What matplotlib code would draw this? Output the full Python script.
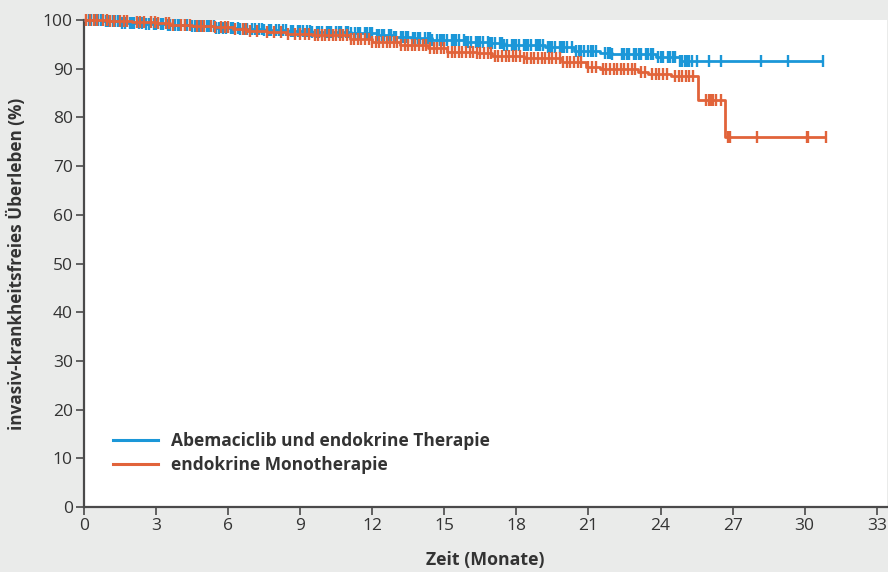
import numpy as np
import matplotlib
matplotlib.use("Agg")
import matplotlib.pyplot as plt
from matplotlib.lines import Line2D

plt.rcParams['font.family'] = ['Open Sans', 'DejaVu Sans']

# ---- data ----
series_names = ["Abemaciclib und endokrine Therapie", "endokrine Monotherapie"]

blue_step_months = [0, 0.8, 1.5, 2.5, 3.5, 4.5, 5.5, 6.5, 7.5, 8.5, 9.5, 11.1, 12.2, 12.9,
                    13.6, 14.5, 15.9, 16.9, 17.5, 19.2, 20.4, 21.5, 22.0, 23.8, 24.8]
blue_step_surv = [100, 99.7, 99.4, 99.2, 99.0, 98.7, 98.4, 98.1, 97.9, 97.7, 97.6, 97.3, 96.9, 96.6,
                  96.4, 95.9, 95.5, 95.2, 94.9, 94.5, 93.7, 93.2, 93.0, 92.5, 91.6]
blue_end_month = 30.75

orange_step_months = [0, 1.0, 2.0, 3.0, 3.6, 4.5, 5.4, 6.2, 6.8, 7.6, 8.4, 9.5, 11.07, 12.0,
                      13.15, 14.3, 15.1, 16.35, 17.0, 18.3, 19.9, 20.9, 21.5, 23.05, 23.5,
                      24.45, 25.55, 26.7]
orange_step_surv = [100, 99.8, 99.6, 99.3, 99.0, 98.8, 98.5, 98.2, 97.8, 97.5, 97.1, 96.9, 96.2, 95.5,
                    94.9, 94.2, 93.5, 93.2, 92.6, 92.1, 91.4, 90.4, 89.9, 89.4, 88.9,
                    88.5, 83.6, 76.0]
orange_end_month = 30.9

blue_censor_months = [
    0.2, 0.3, 0.5, 0.6, 0.7, 0.9, 1.0, 1.2, 1.3, 1.4, 1.6, 1.7, 1.9, 2.0, 2.1, 2.3, 2.4, 2.6,
    2.7, 2.9, 3.0, 3.2, 3.3, 3.5, 3.6, 3.8, 3.9, 4.0, 4.2, 4.3, 4.5, 4.6, 4.8, 4.9, 5.1, 5.2,
    5.4, 5.5, 5.6, 5.8, 5.9, 6.1, 6.2, 6.4, 6.5, 6.7, 6.8, 7.0, 7.1, 7.3, 7.4, 7.5, 7.7, 7.8,
    8.0, 8.1, 8.3, 8.4, 8.6, 8.7, 8.9, 9.0, 9.1, 9.3, 9.4, 9.5, 9.7, 9.8, 9.9, 10.1, 10.2,
    10.3, 10.5, 10.6, 10.7, 10.9, 11.0, 11.1, 11.3, 11.4, 11.5, 11.7, 11.8, 11.9, 12.0, 12.2,
    12.3, 12.4, 12.5, 12.7, 12.8, 12.9, 13.0, 13.2, 13.3, 13.4, 13.5, 13.7, 13.8, 13.9, 14.0,
    14.2, 14.3, 14.4, 14.5, 14.7, 14.8, 14.9, 15.0, 15.1, 15.3, 15.4, 15.5, 15.6, 15.8, 15.9,
    16.0, 16.1, 16.3, 16.4, 16.5, 16.6, 16.8, 16.9, 17.0, 17.1, 17.3, 17.4, 17.5, 17.6, 17.8,
    17.9, 18.0, 18.1, 18.3, 18.4, 18.5, 18.6, 18.8, 18.9, 19.0, 19.1, 19.3, 19.4, 19.5, 19.6,
    19.8, 19.9, 20.0, 20.1, 20.3, 20.5, 20.6, 20.7, 20.8, 21.0, 21.1, 21.2, 21.3, 21.7, 21.8,
    21.9, 22.0, 22.4, 22.5, 22.6, 22.7, 22.9, 23.0, 23.1, 23.2, 23.4, 23.5, 23.6, 23.7, 23.9,
    24.0, 24.1, 24.3, 24.4, 24.5, 24.6, 24.8, 24.9, 25.0, 25.1, 25.2, 25.3, 25.5, 26.0, 26.5,
    28.2, 29.3, 30.75]

orange_censor_months = [
    0.1, 0.25, 0.4, 0.55, 0.8, 0.95, 1.1, 1.25, 1.5, 1.65, 1.8, 2.2, 2.35, 2.5, 2.8, 2.95,
    3.1, 3.4, 3.55, 3.7, 4.05, 4.2, 4.4, 4.7, 4.85, 5.0, 5.3, 5.45, 5.7, 5.85, 6.0, 6.3, 6.6,
    6.75, 6.9, 7.2, 7.6, 7.9, 8.2, 8.5, 8.8, 9.0, 9.2, 9.35, 9.6, 9.75, 9.9, 10.05, 10.2,
    10.35, 10.5, 10.65, 10.8, 10.95, 11.1, 11.25, 11.4, 11.55, 11.7, 11.85, 12.0, 12.15, 12.3,
    12.45, 12.6, 12.75, 12.9, 13.05, 13.2, 13.35, 13.5, 13.65, 13.8, 13.95, 14.1, 14.25, 14.4,
    14.55, 14.7, 14.85, 15.0, 15.15, 15.3, 15.45, 15.6, 15.75, 15.9, 16.05, 16.2, 16.35, 16.5,
    16.65, 16.8, 16.95, 17.1, 17.25, 17.4, 17.55, 17.7, 17.85, 18.0, 18.15, 18.3, 18.45, 18.6,
    18.75, 18.9, 19.05, 19.2, 19.35, 19.5, 19.65, 19.8, 19.95, 20.1, 20.25, 20.4, 20.55, 20.7,
    21.0, 21.15, 21.3, 21.6, 21.75, 21.9, 22.05, 22.2, 22.35, 22.5, 22.65, 22.8, 22.95, 23.2,
    23.35, 23.65, 23.8, 23.95, 24.1, 24.25, 24.6, 24.75, 24.9, 25.05, 25.2, 25.35, 25.9, 26.0,
    26.1, 26.2, 26.3, 26.5, 26.8, 26.9, 28.0, 30.1, 30.15, 30.9]

x_ticks = [0, 3, 6, 9, 12, 15, 18, 21, 24, 27, 30, 33]
y_ticks = [0, 10, 20, 30, 40, 50, 60, 70, 80, 90, 100]
x_label = "Zeit (Monate)"
y_label = "invasiv-krankheitsfreies Überleben (%)"

# ---- styling ----
BLUE = "#1b97d8"
ORANGE = "#e1633a"
BG = "#eaebea"
AX = "#4a4a4a"

fig = plt.figure(figsize=(8.88, 5.72), dpi=100, facecolor=BG)
ax = fig.add_axes([0.0946, 0.1136, 0.9043, 0.8514])
ax.set_facecolor("white")


def surv_at(times, steps_t, steps_s):
    idx = np.searchsorted(np.asarray(steps_t), np.asarray(times), side="right") - 1
    return np.asarray(steps_s)[idx]


def draw_curve(steps_t, steps_s, end_t, censor_t, color, z):
    t = list(steps_t) + [end_t]
    s = list(steps_s) + [steps_s[-1]]
    ax.step(t, s, where="post", color=color, lw=2.0, zorder=z, clip_on=False,
            solid_capstyle="butt")
    cs = surv_at(censor_t, steps_t, steps_s)
    ax.plot(censor_t, cs, linestyle="none", marker="|", ms=8.5, mew=1.7,
            color=color, zorder=z, clip_on=False)


draw_curve(blue_step_months, blue_step_surv, blue_end_month, blue_censor_months, BLUE, 3)
draw_curve(orange_step_months, orange_step_surv, orange_end_month, orange_censor_months, ORANGE, 4)

ax.set_xlim(0, 33.43)
ax.set_ylim(0, 100)
ax.set_xticks(x_ticks)
ax.set_yticks(y_ticks)
ax.tick_params(axis="both", direction="out", length=6, width=1.2, color=AX,
               labelsize=12.5, labelcolor="#333333", pad=2)

for sp in ("top", "right"):
    ax.spines[sp].set_visible(False)
for sp in ("left", "bottom"):
    ax.spines[sp].set_color(AX)
    ax.spines[sp].set_linewidth(1.6)

ax.set_xlabel(x_label, fontsize=12.8, fontweight="bold", color="#333333", labelpad=12)
ax.set_ylabel(y_label, fontsize=12.3, fontweight="bold", color="#333333", labelpad=12)

handles = [Line2D([0], [0], color=BLUE, lw=2.2), Line2D([0], [0], color=ORANGE, lw=2.2)]
leg = ax.legend(handles, series_names, loc="lower left", bbox_to_anchor=(0.017, 0.035),
                frameon=False, prop={"size": 12.5, "weight": "bold"},
                handlelength=2.6, handletextpad=0.7, labelspacing=0.35)
for txt in leg.get_texts():
    txt.set_color("#333333")

fig.savefig("out.png", dpi=100, facecolor=BG)
